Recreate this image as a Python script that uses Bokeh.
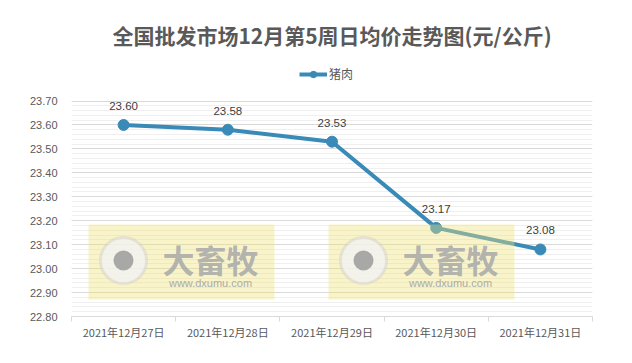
from bokeh.plotting import figure
from bokeh.models import (Range1d, FixedTicker, NumeralTickFormatter, Legend,
                          LegendItem, Label, BoxAnnotation, ColumnDataSource)
from bokeh.core.properties import value
from bokeh.embed import file_html
from bokeh.resources import INLINE

# ---- data ----
title_text = "全国批发市场12月第5周日均价走势图(元/公斤)"
series_name = "猪肉"
dates = ["2021年12月27日", "2021年12月28日", "2021年12月29日", "2021年12月30日", "2021年12月31日"]
pork = [23.60, 23.58, 23.53, 23.17, 23.08]
y_ticks = [22.80, 22.90, 23.00, 23.10, 23.20, 23.30, 23.40, 23.50, 23.60, 23.70]

LINE = "#3a8ab8"
CJK = "Noto Sans CJK SC"
LAT = "Liberation Sans"

# category slots: each date sits in the middle of its slot
centers = [i + 0.5 for i in range(len(dates))]
bounds = list(range(len(dates) + 1))

# layout: axis area spans 215.5 px for 0.9; frame extends above to hold title/legend
PX_PER_UNIT = 215.5 / (y_ticks[-1] - y_ticks[0])
FRAME_H = 316
y_top = y_ticks[0] + FRAME_H / PX_PER_UNIT

src = ColumnDataSource(dict(x=centers, date=dates, price=pork,
                            label=[f"{v:.2f}" for v in pork]))

p = figure(x_range=Range1d(0, len(dates)), y_range=Range1d(y_ticks[0], y_top),
           width=624, height=355, output_backend="svg", toolbar_location=None,
           min_border_left=71, min_border_right=32, min_border_top=0, min_border_bottom=39)
p.outline_line_color = None
p.background_fill_color = "white"
p.border_fill_color = "white"

# grid
p.xgrid.visible = False
minor = [round(y_ticks[0] + 0.02 * i, 2) for i in range(46)]
p.yaxis.ticker = FixedTicker(ticks=y_ticks, minor_ticks=minor)
p.ygrid.grid_line_color = "#d9d9d9"
p.ygrid.minor_grid_line_color = "#efefef"

# y axis
p.yaxis.formatter = NumeralTickFormatter(format="0.00")
p.yaxis.axis_line_color = None
p.yaxis.major_tick_line_color = None
p.yaxis.minor_tick_line_color = None
p.yaxis.major_tick_in = 0
p.yaxis.major_tick_out = 0
p.yaxis.minor_tick_in = 0
p.yaxis.minor_tick_out = 0
p.yaxis.major_label_standoff = 14
p.yaxis.major_label_text_font = LAT
p.yaxis.major_label_text_font_size = "11px"
p.yaxis.major_label_text_color = "#595959"

# x axis: labels at slot centres, boundary ticks between slots
p.xaxis.ticker = FixedTicker(ticks=centers, minor_ticks=bounds)
p.xaxis.major_label_overrides = {c: d for c, d in zip(centers, dates)}
p.xaxis.axis_line_color = "#d9d9d9"
p.xaxis.major_tick_line_color = None
p.xaxis.major_tick_in = 0
p.xaxis.major_tick_out = 0
p.xaxis.minor_tick_line_color = "#d9d9d9"
p.xaxis.minor_tick_in = 0
p.xaxis.minor_tick_out = 5
p.xaxis.major_label_standoff = 2
p.xaxis.major_label_text_font = CJK
p.xaxis.major_label_text_font_size = "11px"
p.xaxis.major_label_text_color = "#595959"

# series
line_r = p.line(x="x", y="price", source=src, line_color=LINE, line_width=4)
pts_r = p.scatter(x="x", y="price", source=src, size=11, fill_color=LINE, line_color=LINE)
p.text(x="x", y="price", text="label", source=src, text_align="center", text_baseline="middle",
       y_offset=-19, text_font=value(LAT), text_font_size="11.5px", text_color="#404040")

# title
p.add_layout(Label(x=260.5, y=282, x_units="screen", y_units="screen", text=title_text,
                   text_align="center", text_baseline="middle", text_font=CJK,
                   text_font_size="21px", text_font_style="bold", text_color="#595959"))

# legend
legend = Legend(items=[LegendItem(label=series_name, renderers=[line_r, pts_r])],
                location=(228, 234), orientation="horizontal", glyph_width=28, glyph_height=16,
                label_standoff=2, padding=0, margin=0, border_line_color=None,
                background_fill_alpha=0, label_text_font=CJK, label_text_font_size="12px",
                label_text_color="#595959")
p.add_layout(legend)

# watermarks
for dx in (0, 240):
    p.add_layout(BoxAnnotation(left=17 + dx, right=203 + dx, bottom=17, top=92,
                               left_units="screen", right_units="screen",
                               top_units="screen", bottom_units="screen",
                               fill_color="#efe07a", fill_alpha=0.4, line_color=None))
    p.add_layout(BoxAnnotation(left=29 + dx, right=75 + dx, bottom=33, top=79,
                               left_units="screen", right_units="screen",
                               top_units="screen", bottom_units="screen",
                               fill_color="#f2f2f2", fill_alpha=0.8, line_color="#bdbdbd",
                               line_width=3, border_radius=23))
    p.add_layout(BoxAnnotation(left=42 + dx, right=62 + dx, bottom=46, top=66,
                               left_units="screen", right_units="screen",
                               top_units="screen", bottom_units="screen",
                               fill_color="#a0a0a0", fill_alpha=0.9, line_color=None,
                               border_radius=10))
    p.add_layout(Label(x=139 + dx, y=58, x_units="screen", y_units="screen", text="大畜牧",
                       text_align="center", text_baseline="middle", text_font=CJK,
                       text_font_size="32px", text_font_style="bold", text_color="#ababab",
                       text_alpha=0.9))
    p.add_layout(Label(x=139 + dx, y=34, x_units="screen", y_units="screen", text="www.dxumu.com",
                       text_align="center", text_baseline="middle", text_font=LAT,
                       text_font_size="11px", text_color="#ababab"))

open("out.html", "w").write(file_html(p, INLINE))
